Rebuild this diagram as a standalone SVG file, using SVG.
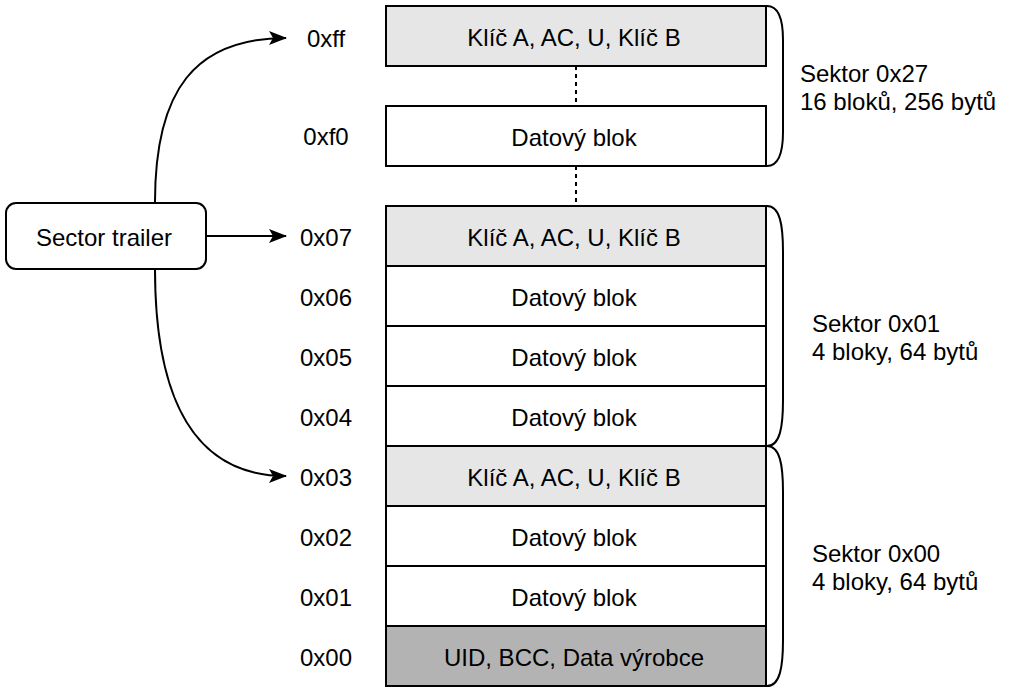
<svg xmlns="http://www.w3.org/2000/svg" width="1012" height="692" viewBox="0 0 1012 692">
<defs>
<marker id="arr" markerWidth="18" markerHeight="14" refX="17" refY="7" orient="auto" markerUnits="userSpaceOnUse">
<path d="M0,0 L18,7 L0,14 L4,7 Z" fill="#000"/>
</marker>
</defs>
<style>
text{font-family:"Liberation Sans",Arial,sans-serif;font-size:24px;fill:#000}
.c{text-anchor:middle;dominant-baseline:central}
.l{dominant-baseline:central}
.blk{stroke:#000;stroke-width:2;fill:#fff}
.key{fill:#e6e6e6}
.uid{fill:#b3b3b3}
.conn{fill:none;stroke:#000;stroke-width:2}
.dash{fill:none;stroke:#000;stroke-width:2;stroke-dasharray:4 4}
.brace{fill:none;stroke:#000;stroke-width:2}
</style>
<rect width="1012" height="692" fill="#fff"/>
<g id="connectors">
<path class="conn" d="M155,202 C155,90 195,38 286,38" marker-end="url(#arr)"/>
<path class="conn" d="M206,236 L286,236" marker-end="url(#arr)"/>
<path class="conn" d="M155,269 C155,400 195,476 286,476" marker-end="url(#arr)"/>
<path class="dash" d="M576,66 L576,106"/>
<path class="dash" d="M576,166 L576,206"/>
</g>
<g id="sector-trailer">
<rect x="6" y="203" width="200" height="66" rx="10" class="blk"/>
<text x="104" y="237" class="c">Sector trailer</text>
</g>
<g id="labels">
<text x="326" y="38" class="c">0xff</text>
<text x="326" y="136" class="c">0xf0</text>
<text x="326" y="237" class="c">0x07</text>
<text x="326" y="297" class="c">0x06</text>
<text x="326" y="357" class="c">0x05</text>
<text x="326" y="417" class="c">0x04</text>
<text x="326" y="477" class="c">0x03</text>
<text x="326" y="537" class="c">0x02</text>
<text x="326" y="597" class="c">0x01</text>
<text x="326" y="657" class="c">0x00</text>
</g>
<g id="block-ff"><rect x="386" y="6" width="380" height="60" class="blk key"/><text x="574" y="37" class="c">Klíč A, AC, U, Klíč B</text></g>
<g id="block-f0"><rect x="386" y="106" width="380" height="60" class="blk"/><text x="574" y="137" class="c">Datový blok</text></g>
<g id="block-07"><rect x="386" y="206" width="380" height="60" class="blk key"/><text x="574" y="237" class="c">Klíč A, AC, U, Klíč B</text></g>
<g id="block-06"><rect x="386" y="266" width="380" height="60" class="blk"/><text x="574" y="297" class="c">Datový blok</text></g>
<g id="block-05"><rect x="386" y="326" width="380" height="60" class="blk"/><text x="574" y="357" class="c">Datový blok</text></g>
<g id="block-04"><rect x="386" y="386" width="380" height="60" class="blk"/><text x="574" y="417" class="c">Datový blok</text></g>
<g id="block-03"><rect x="386" y="446" width="380" height="60" class="blk key"/><text x="574" y="477" class="c">Klíč A, AC, U, Klíč B</text></g>
<g id="block-02"><rect x="386" y="506" width="380" height="60" class="blk"/><text x="574" y="537" class="c">Datový blok</text></g>
<g id="block-01"><rect x="386" y="566" width="380" height="60" class="blk"/><text x="574" y="597" class="c">Datový blok</text></g>
<g id="block-00"><rect x="386" y="626" width="380" height="60" class="blk uid"/><text x="574" y="657" class="c">UID, BCC, Data výrobce</text></g>
<g id="sector-27">
<path class="brace" d="M767,6 C779,6 783,20 783,40 L783,132 C783,152 779,166 767,166"/>
<text x="800" y="73" class="l">Sektor 0x27</text>
<text x="800" y="101" class="l">16 bloků, 256 bytů</text>
</g>
<g id="sector-01">
<path class="brace" d="M767,206 C780,206 783,225 783,252 L783,400 C783,427 780,446 767,446"/>
<text x="812" y="323" class="l">Sektor 0x01</text>
<text x="812" y="351" class="l">4 bloky, 64 bytů</text>
</g>
<g id="sector-00">
<path class="brace" d="M767,446 C780,446 783,465 783,492 L783,640 C783,667 780,686 767,686"/>
<text x="812" y="553" class="l">Sektor 0x00</text>
<text x="812" y="581" class="l">4 bloky, 64 bytů</text>
</g>
</svg>
